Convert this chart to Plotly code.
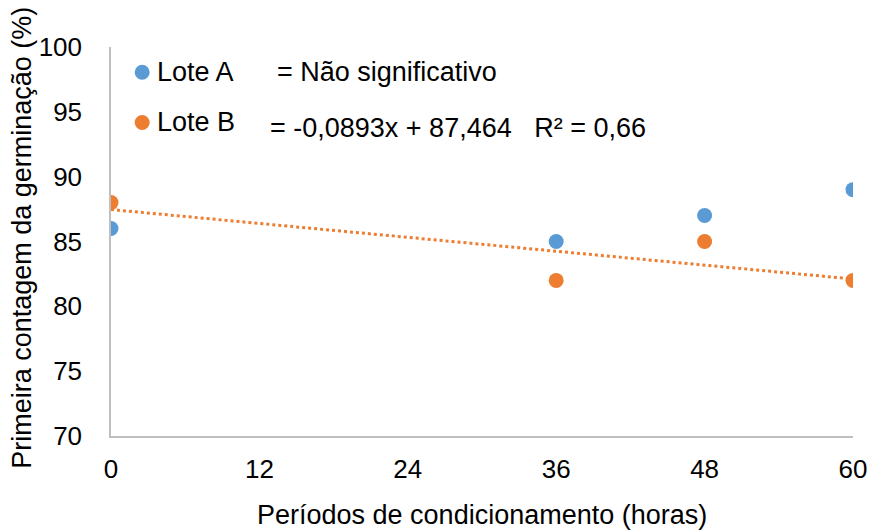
import plotly.graph_objects as go

# Conditioning periods (hours) and first germination count (%)
periodos = [0, 36, 48, 60]
lote_a = [86, 85, 87, 89]
lote_b = [88, 82, 85, 82]

# Linear fit for Lote B
coef_b = [-0.0893, 87.464]
r2_b = 0.66
x_fit = [0, 60]
y_fit = [coef_b[0] * x + coef_b[1] for x in x_fit]

x_ticks = [0, 12, 24, 36, 48, 60]
y_ticks = [70, 75, 80, 85, 90, 95, 100]

azul = "#5B9BD5"
laranja = "#ED7D31"
fonte = "Liberation Sans, Arial, sans-serif"
tam_tick = 26
tam_leg = 27
tam_tit = 27

fig = go.Figure()

fig.add_trace(go.Scatter(
    x=x_fit, y=y_fit, mode="lines",
    line=dict(color=laranja, width=3, dash="dot"),
    showlegend=False, hoverinfo="skip",
))
fig.add_trace(go.Scatter(
    x=periodos, y=lote_a, mode="markers", name="Lote A",
    marker=dict(color=azul, size=15, line=dict(width=0)),
    showlegend=False,
))
fig.add_trace(go.Scatter(
    x=periodos, y=lote_b, mode="markers", name="Lote B",
    marker=dict(color=laranja, size=15, line=dict(width=0)),
    showlegend=False,
))

# Legend built from circle shapes and text annotations
eq_b = "= {:.4f}x + {:.3f}   R² = {:.2f}".format(coef_b[0], coef_b[1], r2_b).replace(".", ",")
legend_items = [
    # name, colour, marker/name y, equation x, equation y, equation text
    ("Lote A", azul, 0.935, 0.221, 0.935, "= Não significativo"),
    ("Lote B", laranja, 0.806, 0.212, 0.793, eq_b),
]
for nome, cor, ypos, xeq, yeq, eq in legend_items:
    fig.add_shape(
        type="circle", xref="paper", yref="paper",
        xsizemode="pixel", ysizemode="pixel",
        xanchor=0.042, yanchor=ypos,
        x0=-7.5, x1=7.5, y0=-7.5, y1=7.5,
        fillcolor=cor, line=dict(width=0),
    )
    fig.add_annotation(
        x=0.0593, y=ypos, xref="paper", yref="paper",
        text=nome, showarrow=False, xanchor="left", yanchor="middle",
        font=dict(size=tam_leg, color="#000000", family=fonte),
    )
    fig.add_annotation(
        x=xeq, y=yeq, xref="paper", yref="paper",
        text=eq, showarrow=False, xanchor="left", yanchor="middle",
        font=dict(size=tam_leg, color="#000000", family=fonte),
    )

# Axis titles
fig.add_annotation(
    x=0.5, y=-0.202, xref="paper", yref="paper",
    text="Períodos de condicionamento (horas)", showarrow=False,
    xanchor="center", yanchor="middle",
    font=dict(size=tam_tit, color="#000000", family=fonte),
)
fig.add_annotation(
    x=-0.121, y=0.51, xref="paper", yref="paper",
    text="Primeira contagem da germinação (%)", showarrow=False, textangle=-90,
    xanchor="center", yanchor="middle",
    font=dict(size=tam_tit, color="#000000", family=fonte),
)

fig.update_layout(
    width=872, height=531,
    margin=dict(l=111, r=19, t=47, b=95),
    paper_bgcolor="white", plot_bgcolor="white",
    font=dict(family=fonte, size=tam_tick, color="#000000"),
)
fig.update_xaxes(
    range=[0, 60], tickvals=x_ticks, ticks="", showgrid=False, zeroline=False,
    showline=True, linecolor="#BFBFBF", linewidth=1.5,
    ticklabelstandoff=9, automargin=False,
    tickfont=dict(size=tam_tick),
)
fig.update_yaxes(
    range=[70, 100], tickvals=y_ticks, ticks="", showgrid=False, zeroline=False,
    showline=True, linecolor="#BFBFBF", linewidth=1.5,
    ticklabelstandoff=22, automargin=False,
    tickfont=dict(size=tam_tick),
)

fig.write_html("out.html")
